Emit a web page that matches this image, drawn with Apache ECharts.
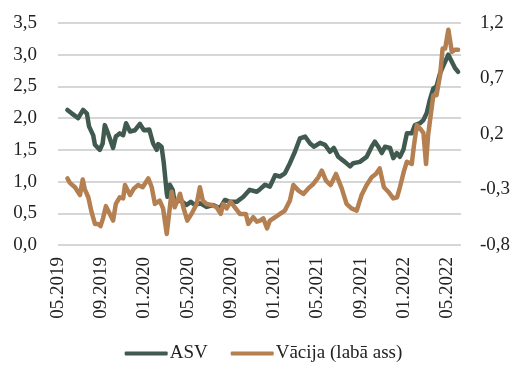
<!DOCTYPE html>
<html>
<head>
<meta charset="utf-8">
<script src="https://cdn.jsdelivr.net/npm/echarts@6/dist/echarts.min.js"></script>
<style>html,body{margin:0;padding:0;background:#fff}#c{width:527px;height:387px}</style>
</head>
<body>
<div id="c"></div>
<script>
const seriesNames = ['ASV', 'Vācija (labā ass)'];
const asvDates = ['2019-05-28','2019-06-08','2019-06-27','2019-07-11','2019-07-22','2019-07-28','2019-08-09','2019-08-14','2019-08-28','2019-09-05','2019-09-11','2019-09-20','2019-10-04','2019-10-12','2019-10-23','2019-11-02','2019-11-10','2019-11-21','2019-12-05','2019-12-19','2019-12-30','2020-01-15','2020-01-26','2020-02-05','2020-02-09','2020-02-18','2020-02-24','2020-03-03','2020-03-05','2020-03-12','2020-03-20','2020-03-26','2020-04-10','2020-04-28','2020-05-10','2020-05-22','2020-06-05','2020-06-24','2020-07-12','2020-08-01','2020-08-15','2020-08-29','2020-09-17','2020-10-06','2020-10-24','2020-11-13','2020-11-22','2020-12-06','2020-12-20','2021-01-04','2021-01-18','2021-02-01','2021-02-14','2021-02-27','2021-03-13','2021-03-28','2021-04-11','2021-04-22','2021-05-09','2021-05-23','2021-06-06','2021-06-17','2021-06-29','2021-07-18','2021-08-02','2021-08-11','2021-08-30','2021-09-18','2021-10-02','2021-10-11','2021-10-21','2021-10-31','2021-11-09','2021-11-23','2021-12-02','2021-12-12','2021-12-21','2021-12-31','2022-01-10','2022-01-24','2022-02-02','2022-02-15','2022-02-24','2022-03-05','2022-03-14','2022-03-24','2022-04-02','2022-04-12','2022-04-26','2022-05-05','2022-05-15','2022-05-24','2022-06-02'];
const asvValues = [2.13,2.08,2.00,2.13,2.07,1.87,1.73,1.58,1.50,1.60,1.89,1.76,1.53,1.71,1.76,1.73,1.92,1.79,1.81,1.91,1.81,1.82,1.60,1.50,1.59,1.55,1.29,0.82,0.76,0.95,0.87,0.66,0.71,0.63,0.68,0.63,0.66,0.60,0.63,0.58,0.71,0.68,0.68,0.76,0.87,0.84,0.88,0.95,0.92,1.10,1.08,1.13,1.29,1.47,1.68,1.71,1.60,1.55,1.61,1.58,1.47,1.53,1.39,1.31,1.24,1.29,1.31,1.39,1.55,1.63,1.55,1.45,1.55,1.53,1.37,1.45,1.39,1.50,1.76,1.76,1.89,1.92,1.97,2.08,2.29,2.47,2.50,2.71,2.89,3.00,2.89,2.79,2.73];
const deDates = ['2019-05-28','2019-06-04','2019-06-18','2019-07-02','2019-07-10','2019-07-16','2019-07-26','2019-08-04','2019-08-14','2019-08-23','2019-08-30','2019-09-06','2019-09-14','2019-09-25','2019-10-04','2019-10-12','2019-10-23','2019-11-02','2019-11-07','2019-11-21','2019-12-02','2019-12-14','2019-12-27','2020-01-12','2020-01-22','2020-01-31','2020-02-13','2020-02-22','2020-03-03','2020-03-07','2020-03-12','2020-03-17','2020-03-26','2020-04-10','2020-04-19','2020-04-30','2020-05-12','2020-05-27','2020-06-05','2020-06-13','2020-06-24','2020-07-08','2020-07-22','2020-08-03','2020-08-10','2020-08-20','2020-08-31','2020-09-12','2020-09-26','2020-10-13','2020-10-20','2020-11-03','2020-11-13','2020-11-22','2020-12-01','2020-12-12','2020-12-20','2021-01-04','2021-01-18','2021-02-01','2021-02-14','2021-02-23','2021-03-09','2021-03-23','2021-04-06','2021-04-20','2021-05-04','2021-05-14','2021-05-26','2021-06-08','2021-06-23','2021-07-09','2021-07-23','2021-08-06','2021-08-21','2021-09-04','2021-09-18','2021-10-02','2021-10-14','2021-10-25','2021-11-06','2021-11-18','2021-12-02','2021-12-13','2021-12-21','2022-01-02','2022-01-10','2022-01-24','2022-01-30','2022-02-07','2022-02-15','2022-02-24','2022-03-03','2022-03-09','2022-03-16','2022-03-24','2022-04-02','2022-04-12','2022-04-19','2022-04-26','2022-05-05','2022-05-15','2022-05-24','2022-06-02'];
const deValues = [-0.20,-0.24,-0.28,-0.35,-0.21,-0.30,-0.37,-0.50,-0.61,-0.61,-0.63,-0.56,-0.45,-0.52,-0.58,-0.43,-0.37,-0.38,-0.26,-0.35,-0.29,-0.26,-0.28,-0.20,-0.28,-0.43,-0.40,-0.47,-0.70,-0.71,-0.46,-0.32,-0.46,-0.34,-0.46,-0.58,-0.52,-0.43,-0.28,-0.40,-0.43,-0.44,-0.46,-0.52,-0.43,-0.47,-0.41,-0.46,-0.52,-0.52,-0.61,-0.55,-0.59,-0.58,-0.56,-0.65,-0.58,-0.55,-0.52,-0.49,-0.40,-0.26,-0.31,-0.34,-0.29,-0.25,-0.19,-0.13,-0.22,-0.26,-0.16,-0.29,-0.43,-0.47,-0.49,-0.35,-0.26,-0.19,-0.16,-0.11,-0.28,-0.32,-0.38,-0.37,-0.28,-0.13,-0.05,-0.07,0.09,0.28,0.25,0.21,-0.07,0.19,0.36,0.55,0.55,0.73,0.97,0.97,1.14,0.94,0.96,0.96];
const leftTicks = {min: 0, max: 3.5, interval: 0.5};
const rightTicks = {min: -0.8, max: 1.2, interval: 0.5};

function monthIndex(s) {
  const [y, m, d] = s.split('-').map(Number);
  const dim = new Date(y, m, 0).getDate();
  return (y - 2019) * 12 + (m - 5) + (d - 1) / dim;
}
function fmtComma(v) { return (Math.round(v * 10) / 10).toFixed(1).replace('.', ','); }
function fmtMonth(v) {
  const r = Math.round(v);
  if (Math.abs(v - r) > 1e-6 || r % 4 !== 0 || r > 36) return '';
  const t = r + 4;
  const yr = 2019 + Math.floor(t / 12);
  const mo = (t % 12) + 1;
  return (mo < 10 ? '0' : '') + mo + '.' + yr;
}

const FONT = 'Liberation Serif';
const chart = echarts.init(document.getElementById('c'), null, {renderer: 'canvas'});
chart.setOption({
  animation: false,
  backgroundColor: '#ffffff',
  grid: {left: 58, right: 66, top: 23, bottom: 142, containLabel: false},
  legend: {
    bottom: 19, left: 'center',
    itemWidth: 43, itemHeight: 4, itemGap: 23,
    icon: 'roundRect',
    textStyle: {fontFamily: FONT, fontSize: 19, color: '#222', padding: [0, 0, 0, -3]},
    data: seriesNames
  },
  xAxis: {
    type: 'value', min: 0, max: 37.3, interval: 4,
    axisLine: {show: false}, axisTick: {show: false}, splitLine: {show: false},
    axisLabel: {rotate: 90, margin: 12, fontFamily: FONT, fontSize: 19, color: '#222', formatter: fmtMonth, showMaxLabel: false}
  },
  yAxis: [
    {type: 'value', min: leftTicks.min, max: leftTicks.max, interval: leftTicks.interval,
     axisLine: {show: false}, axisTick: {show: false},
     splitLine: {lineStyle: {color: '#d6d6d6', width: 2}},
     axisLabel: {margin: 21, fontFamily: FONT, fontSize: 19, color: '#222', formatter: fmtComma}},
    {type: 'value', min: rightTicks.min, max: rightTicks.max, interval: rightTicks.interval,
     axisLine: {show: false}, axisTick: {show: false}, splitLine: {show: false},
     axisLabel: {margin: 19, fontFamily: FONT, fontSize: 19, color: '#222', formatter: fmtComma}}
  ],
  series: [
    {name: seriesNames[0], type: 'line', yAxisIndex: 0, showSymbol: false, symbol: 'none',
     color: '#415a4f', lineStyle: {width: 4.5, color: '#415a4f', cap: 'round', join: 'round'},
     data: asvDates.map((d, i) => [monthIndex(d), asvValues[i]])},
    {name: seriesNames[1], type: 'line', yAxisIndex: 1, showSymbol: false, symbol: 'none',
     color: '#b47f51', lineStyle: {width: 4.5, color: '#b47f51', cap: 'round', join: 'round'},
     data: deDates.map((d, i) => [monthIndex(d), deValues[i]])}
  ]
});
</script>
</body>
</html>
